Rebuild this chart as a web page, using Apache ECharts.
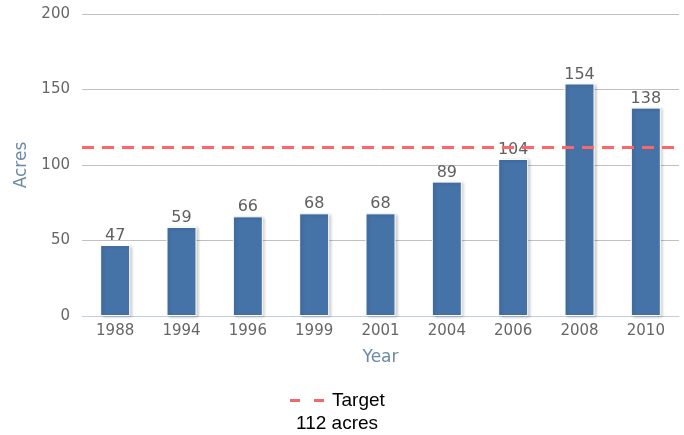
<!DOCTYPE html>
<html><head><meta charset="utf-8">
<script src="https://cdn.jsdelivr.net/npm/echarts@6/dist/echarts.min.js"></script>
<style>html,body{margin:0;padding:0;background:#fff}#c{width:684px;height:435px}</style>
</head><body><div id="c"></div>
<script>
const years = ['1988','1994','1996','1999','2001','2004','2006','2008','2010'];
const acres = [47,59,66,68,68,89,104,154,138];
const targetValue = 112;
const targetName = 'Target';
const targetNote = '112 acres';
const yTicks = {min:0, max:200, interval:50};

const chart = echarts.init(document.getElementById('c'));
const font = 'DejaVu Sans';
chart.setOption({
  animation:false,
  grid:{left:82,right:5,top:14,bottom:119,outerBoundsMode:'none',containLabel:false},
  xAxis:{
    type:'category', data:years,
    name:'Year', nameLocation:'middle', nameGap:33,
    nameTextStyle:{color:'#6d89a8',fontSize:17,fontFamily:font},
    axisLine:{lineStyle:{color:'#c0d0e0'}},
    axisTick:{lineStyle:{color:'#c0d0e0'},length:6},
    axisLabel:{color:'#666',fontSize:15,fontFamily:font,margin:8}
  },
  yAxis:{
    type:'value', min:yTicks.min, max:yTicks.max, interval:yTicks.interval,
    name:'Acres', nameLocation:'middle', nameGap:52,
    nameTextStyle:{color:'#6d89a8',fontSize:17,fontFamily:font},
    axisLine:{show:false}, axisTick:{show:false},
    axisLabel:{color:'#666',fontSize:15,fontFamily:font,margin:12},
    splitLine:{lineStyle:{color:'#c0c0c0'}}
  },
  legend:{
    left:290, top:391, padding:0,
    data:[{name:targetName, icon:'path://M0,0h10v3h-10z M24,0h10v3h-10z'}],
    itemWidth:34, itemHeight:3,
    textStyle:{color:'#000',fontSize:19,fontFamily:'Liberation Sans',padding:[0,0,0,3]}
  },
  graphic:[{type:'text',left:296,top:414,style:{text:targetNote,fill:'#000',fontSize:19,fontFamily:'Liberation Sans'}}],
  series:[
    {type:'bar', name:'Acres', data:acres, barWidth:30,
     itemStyle:{color:'#4572a7',borderColor:'#fff',borderWidth:1,
       shadowColor:'rgba(0,0,0,0.2)',shadowBlur:3,shadowOffsetX:2,shadowOffsetY:1},
     label:{show:true,position:'top',distance:1,color:'#606060',fontSize:16,fontFamily:font}},
    {type:'line', name:targetName, data:[], color:'#ee6a6a',
     markLine:{symbol:'none',silent:true,label:{show:false},
       lineStyle:{color:'#ff6666',type:[12,8],width:3},
       data:[{yAxis:targetValue}]}}
  ]
});
</script></body></html>
